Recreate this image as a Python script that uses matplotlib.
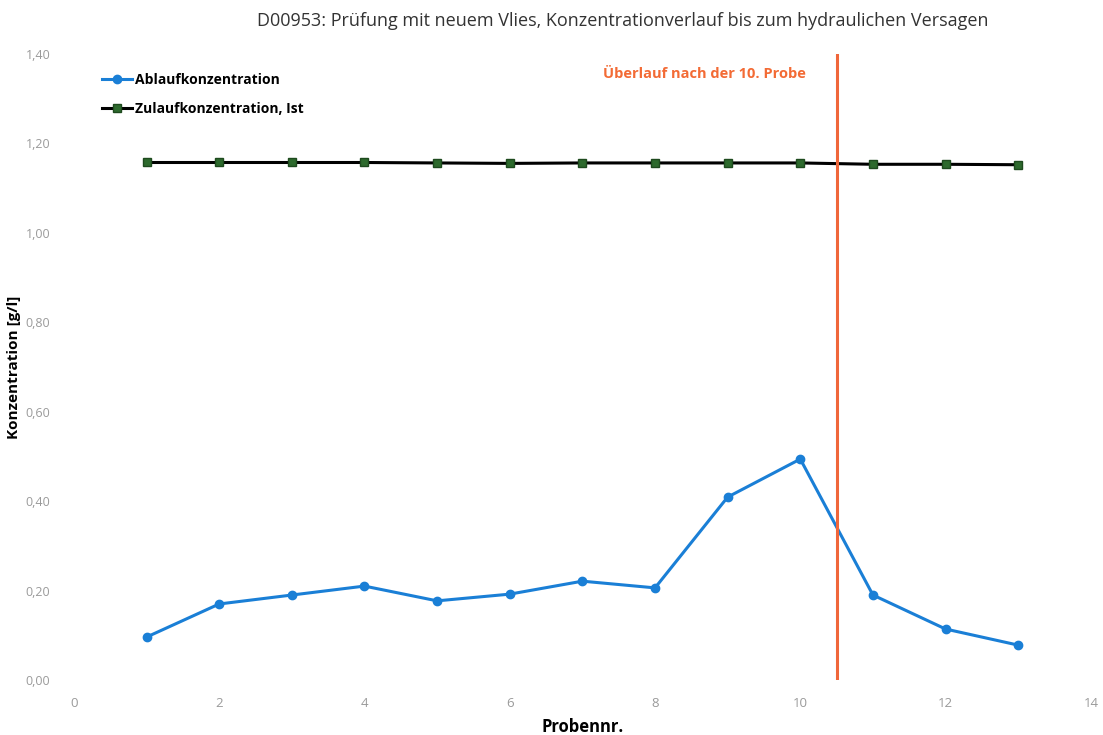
import matplotlib.pyplot as plt
from matplotlib.ticker import FuncFormatter

plt.rcParams['font.family'] = ['Open Sans', 'DejaVu Sans']

probe = [1, 2, 3, 4, 5, 6, 7, 8, 9, 10, 11, 12, 13]
ablauf = [0.096, 0.170, 0.190, 0.210, 0.177, 0.192, 0.221, 0.206, 0.409, 0.494, 0.190, 0.114, 0.078]
zulauf = [1.157, 1.157, 1.157, 1.157, 1.156, 1.155, 1.156, 1.156, 1.156, 1.156, 1.153, 1.153, 1.152]
ueberlauf_x = 10.5

fig = plt.figure(figsize=(11.03, 7.35), dpi=100)
ax = fig.add_axes([0.067, 0.0748, 0.922, 0.852])

ax.plot(probe, ablauf, color='#1a7fd6', lw=2.2, marker='o', ms=6, label='Ablaufkonzentration')
ax.plot(probe, zulauf, color='black', lw=2.2, marker='s', ms=5.5, mfc='#2d6a2d', mec='#1e4a1e',
        label='Zulaufkonzentration, Ist')
ax.axvline(ueberlauf_x, color='#f0663a', lw=2.2)
ax.text(7.28, 1.355, 'Überlauf nach der 10. Probe', color='#f36b35', fontsize=10.5,
        fontweight='bold', ha='left', va='center')

ax.set_xlim(0, 14)
ax.set_ylim(0, 1.4)
ax.set_xticks(range(0, 15, 2))
ax.set_yticks([0, 0.2, 0.4, 0.6, 0.8, 1.0, 1.2, 1.4])
ax.yaxis.set_major_formatter(FuncFormatter(lambda v, p: f'{v:.2f}'.replace('.', ',')))
for s in ax.spines.values():
    s.set_visible(False)
ax.tick_params(length=0, colors='#9a9a9a', labelsize=9.5, pad=12)
ax.tick_params(axis='y', pad=17, labelsize=9)

ax.set_xlabel('Probennr.', fontsize=12, fontweight='bold', labelpad=6)
ax.set_ylabel('Konzentration [g/l]', fontsize=11, fontweight='bold')
ax.yaxis.set_label_coords(-0.052, 0.5)

fig.text(0.565, 0.972, 'D00953: Prüfung mit neuem Vlies, Konzentrationverlauf bis zum hydraulichen Versagen',
         ha='center', va='center', fontsize=13, color='#333333')

ax.legend(loc='upper left', bbox_to_anchor=(0.015, 0.99), frameon=False,
          handlelength=2.2, handletextpad=0.2, labelspacing=1.1,
          prop={'weight': 'bold', 'size': 10})

fig.savefig('out.png', dpi=100)
